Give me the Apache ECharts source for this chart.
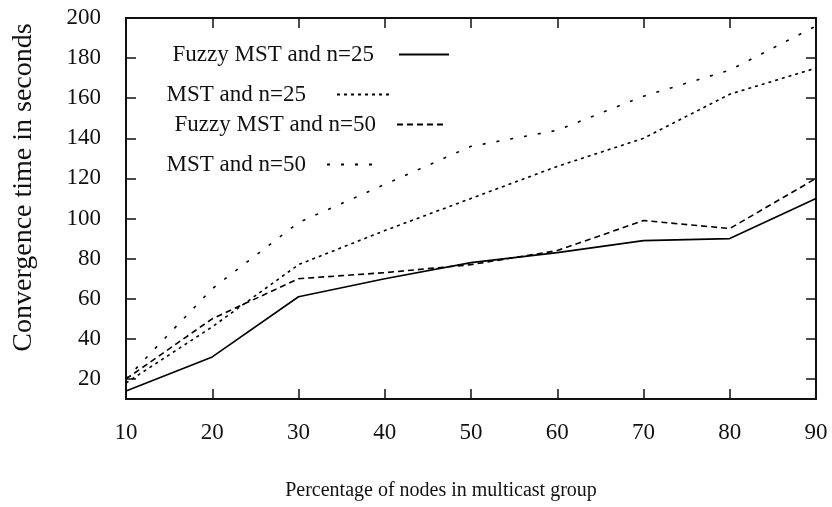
<!DOCTYPE html>
<html>
<head>
<meta charset="utf-8">
<script src="https://cdn.jsdelivr.net/npm/echarts@6/dist/echarts.min.js"></script>
<style>
  html, body { margin: 0; padding: 0; background: #fff; }
  #myChart { width: 832px; height: 507px; }
</style>
</head>
<body>
<div id="myChart"></div>
<script>
// 數據
const percentages = [10, 20, 30, 40, 50, 60, 70, 80, 90]
const fuzzyMst25 = [14, 31, 61, 70, 78, 83, 89, 90, 110]
const mst25 = [18, 46, 77, 94, 110, 126, 140, 162, 175]
const fuzzyMst50 = [20, 50, 70, 73, 77, 84, 99, 95, 120]
const mst50 = [20, 65, 98, 117, 136, 144, 161, 174, 196]
const yTickValues = [20, 40, 60, 80, 100, 120, 140, 160, 180, 200]
const seriesNames = ['Fuzzy MST and n=25', 'MST and n=25', 'Fuzzy MST and n=50', 'MST and n=50']

const FONT = '"Liberation Serif", "DejaVu Serif", serif'
const INK = '#111'

function pairs(values) {
  return percentages.map((x, i) => [x, values[i]])
}

function lineSeries(name, values, dash) {
  return {
    name: name,
    type: 'line',
    data: pairs(values),
    symbol: 'none',
    showSymbol: false,
    silent: true,
    lineStyle: { color: '#000', width: 1.6, type: dash },
    itemStyle: { color: '#000' }
  }
}

// one legend per entry, the original places them by hand
function legendEntry(name, right, top, width, textPad) {
  return {
    data: [name],
    right: right,
    top: top,
    align: 'right',
    itemWidth: width,
    itemHeight: 14,
    selectedMode: false,
    itemStyle: { opacity: 0 },
    textStyle: {
      fontFamily: FONT,
      fontSize: 23,
      color: INK,
      padding: [0, textPad, 0, 0]
    }
  }
}

const tickStyle = { show: true, inside: true, length: 10, lineStyle: { color: INK, width: 1.5 } }
const frameLine = { show: true, lineStyle: { color: INK, width: 2 } }

const myOption = {
  backgroundColor: '#fff',
  animation: false,
  grid: { left: 126, right: 16, top: 18, bottom: 108 },
  legend: [
    legendEntry(seriesNames[0], 377, 38, 50, 20),
    legendEntry(seriesNames[1], 437, 78, 52, 26),
    legendEntry(seriesNames[2], 380, 108, 49, 16),
    legendEntry(seriesNames[3], 452, 148, 47, 16)
  ],
  xAxis: [
    {
      type: 'value',
      position: 'bottom',
      min: 10,
      max: 90,
      interval: 10,
      axisLine: frameLine,
      axisTick: tickStyle,
      splitLine: { show: false },
      axisLabel: { fontFamily: FONT, fontSize: 23, color: INK, margin: 22 },
      name: 'Percentage of nodes in multicast group',
      nameLocation: 'middle',
      nameGap: 82,
      nameTextStyle: { fontFamily: FONT, fontSize: 20, color: INK, padding: [0, 60, 0, 0] }
    },
    {
      type: 'value',
      position: 'top',
      min: 10,
      max: 90,
      interval: 10,
      axisLine: frameLine,
      axisTick: tickStyle,
      axisLabel: { show: false },
      splitLine: { show: false }
    }
  ],
  yAxis: [
    {
      type: 'value',
      position: 'left',
      min: 10,
      max: 200,
      interval: 10,
      axisLine: frameLine,
      axisTick: Object.assign({ customValues: yTickValues }, tickStyle),
      splitLine: { show: false },
      axisLabel: { customValues: yTickValues, fontFamily: FONT, fontSize: 23, color: INK, margin: 25 },
      name: 'Convergence time in seconds',
      nameLocation: 'middle',
      nameGap: 88,
      nameTextStyle: { fontFamily: FONT, fontSize: 28, color: INK, padding: [0, 0, 0, 42] }
    },
    {
      type: 'value',
      position: 'right',
      min: 10,
      max: 200,
      interval: 10,
      axisLine: frameLine,
      axisTick: Object.assign({ customValues: yTickValues }, tickStyle),
      axisLabel: { show: false },
      splitLine: { show: false }
    }
  ],
  series: [
    lineSeries(seriesNames[0], fuzzyMst25, 'solid'),
    lineSeries(seriesNames[1], mst25, [3, 4]),
    lineSeries(seriesNames[2], fuzzyMst50, [6, 4]),
    lineSeries(seriesNames[3], mst50, [3, 11])
  ]
}

const myChart = echarts.init(document.getElementById('myChart'), null, { renderer: 'canvas' })
myChart.setOption(myOption)
</script>
</body>
</html>
